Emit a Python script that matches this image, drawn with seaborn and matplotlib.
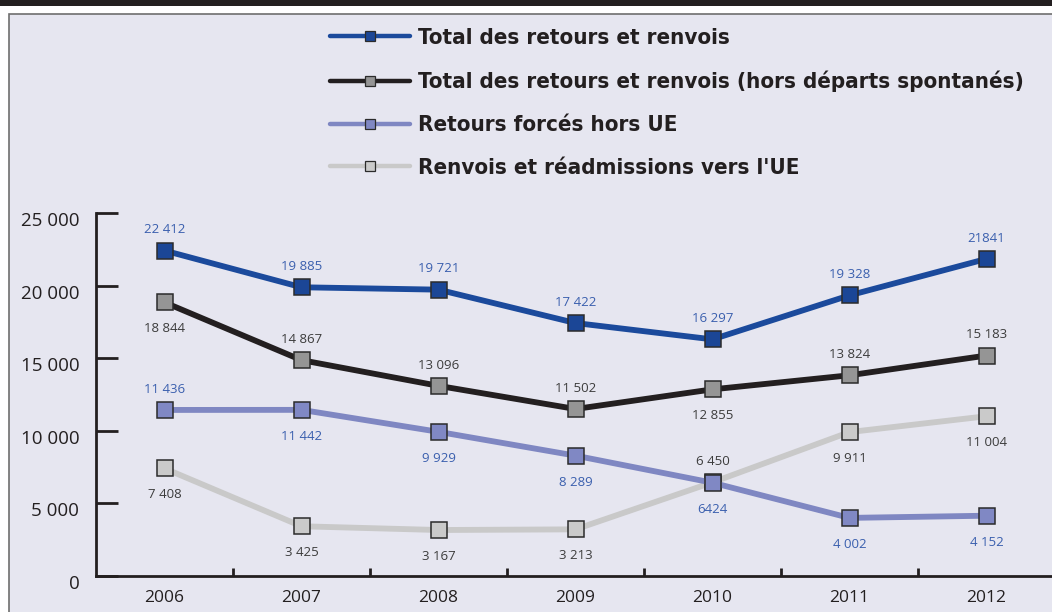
import numpy as np
import pandas as pd
import matplotlib
matplotlib.use("Agg")
import matplotlib.pyplot as plt
import matplotlib.transforms as mtransforms
from matplotlib import font_manager
from matplotlib.lines import Line2D
from matplotlib.patches import Rectangle
import seaborn as sns

annees = ["2006", "2007", "2008", "2009", "2010", "2011", "2012"]

total = [22412, 19885, 19721, 17422, 16297, 19328, 21841]
total_hors_spont = [18844, 14867, 13096, 11502, 12855, 13824, 15183]
forces_hors_ue = [11436, 11442, 9929, 8289, 6424, 4002, 4152]
renvois_ue = [7408, 3425, 3167, 3213, 6450, 9911, 11004]

etiq_total = ["22 412", "19 885", "19 721", "17 422", "16 297", "19 328", "21841"]
etiq_hors_spont = ["18 844", "14 867", "13 096", "11 502", "12 855", "13 824", "15 183"]
etiq_forces = ["11 436", "11 442", "9 929", "8 289", "6424", "4 002", "4 152"]
etiq_renvois = ["7 408", "3 425", "3 167", "3 213", "6 450", "9 911", "11 004"]

noms = ["Total des retours et renvois",
        "Total des retours et renvois (hors départs spontanés)",
        "Retours forcés hors UE",
        "Renvois et réadmissions vers l'UE"]

y_ticks = [0, 5000, 10000, 15000, 20000, 25000]
y_labels = ["0", "5 000", "10 000", "15 000", "20 000", "25 000"]

FOND = "#e6e6f0"
BLEU_TXT = "#3a5fae"
GRIS_TXT = "#3c3c3c"

# (valeurs, etiquettes, couleur ligne, remplissage marqueur, couleur texte, position etiquettes)
series = [
    (renvois_ue, etiq_renvois, "#c9c9c9", "#cacaca", GRIS_TXT, ["b", "b", "b", "b", "a", "b", "b"]),
    (forces_hors_ue, etiq_forces, "#7f87c2", "#8088c4", BLEU_TXT, ["a", "b", "b", "b", "b", "b", "b"]),
    (total_hors_spont, etiq_hors_spont, "#231f20", "#959595", GRIS_TXT, ["b", "a", "a", "a", "b", "a", "a"]),
    (total, etiq_total, "#1b4a9c", "#1b4696", BLEU_TXT, ["a", "a", "a", "a", "a", "a", "a"]),
]

sns.set_theme(style="white")
plt.rcParams["font.family"] = ["Open Sans", "DejaVu Sans"]

# police etroite et grasse pour la legende, si disponible
leg_font = None
for motif in ["LiberationSansNarrow-Bold.", "DejaVuSansCondensed-Bold.", "Roboto_Condensed-Bold", "RobotoCondensed-Bold"]:
    for f in font_manager.fontManager.ttflist:
        if motif in f.fname.replace(" ", ""):
            leg_font = font_manager.FontProperties(fname=f.fname, size=16)
            break
    if leg_font is not None:
        break
if leg_font is None:
    leg_font = font_manager.FontProperties(family=["Roboto", "DejaVu Sans"], weight="bold",
                                           stretch="condensed", size=15)

fig = plt.figure(figsize=(10.52, 6.12), dpi=100, facecolor="white")
W, H = 1052, 612

# bandeau noir et cadre
fig.patches.append(Rectangle((0, (H - 6) / H), 1, 6 / H, transform=fig.transFigure,
                             facecolor="#231f20", edgecolor="none", zorder=-10))
fig.patches.append(Rectangle((9.5 / W, -0.1), 1.1, (H - 13.5) / H + 0.1, transform=fig.transFigure,
                             facecolor=FOND, edgecolor="#6e6e6e", linewidth=1.2, zorder=-10))

ax = fig.add_axes([96 / W, 36 / H, (1055 - 96) / W, 363 / H])
ax.set_facecolor("none")
ax.set_zorder(5)

for vals, etiqs, couleur, remp, ctxt, pos in series:
    df = pd.DataFrame({"annee": annees, "valeur": vals})
    sns.lineplot(data=df, x="annee", y="valeur", ax=ax, color=couleur, linewidth=4.2,
                 marker="s", markersize=12, markerfacecolor=remp,
                 markeredgecolor="#2b2b2b", markeredgewidth=1.1, sort=False)
    for i, (v, t, p) in enumerate(zip(vals, etiqs, pos)):
        dy = 15 if p == "a" else -19
        ax.annotate(t, (i, v), xytext=(0, dy), textcoords="offset points",
                    ha="center", va="center", fontsize=9.5, color=ctxt, zorder=10)

ax.set_xlim(-0.5, 6.5)
ax.set_ylim(0, 25000)
ax.set_xlabel("")
ax.set_ylabel("")

ax.set_yticks(y_ticks)
ax.set_yticklabels(y_labels)
ax.set_xticks(range(len(annees)))
ax.set_xticklabels(annees)
ax.set_xticks(np.arange(0.5, 6.5, 1), minor=True)

for s in ["top", "right"]:
    ax.spines[s].set_visible(False)
for s in ["left", "bottom"]:
    ax.spines[s].set_color("#231f20")
    ax.spines[s].set_linewidth(2)

ax.tick_params(axis="y", which="major", direction="in", length=16, width=2,
               color="#231f20", pad=12, labelsize=13.5, labelcolor="#231f20", left=True)
ax.tick_params(axis="x", which="major", length=0, pad=10, labelsize=12.5, labelcolor="#231f20")
ax.tick_params(axis="x", which="minor", direction="in", length=6, width=2,
               color="#231f20", bottom=True)

decal = mtransforms.ScaledTranslation(0, -6 / 100, fig.dpi_scale_trans)
for lab in ax.get_yticklabels():
    lab.set_transform(lab.get_transform() + decal)

# legende
leg_series = [series[3], series[2], series[1], series[0]]
handles = [Line2D([], [], color=c, linewidth=3.2, marker="s", markersize=7.5,
                  markerfacecolor=r, markeredgecolor="#2b2b2b", markeredgewidth=0.9)
           for _, _, c, r, _, _ in leg_series]
leg = fig.legend(handles, noms, loc="upper left", bbox_to_anchor=(330 / W, (H - 28) / H),
                 frameon=False, borderpad=0, borderaxespad=0, handlelength=3.6,
                 handletextpad=0.35, labelspacing=1.03, prop=leg_font)
for t in leg.get_texts():
    t.set_color("#231f20")

fig.savefig("out.png", dpi=100, facecolor="white")
